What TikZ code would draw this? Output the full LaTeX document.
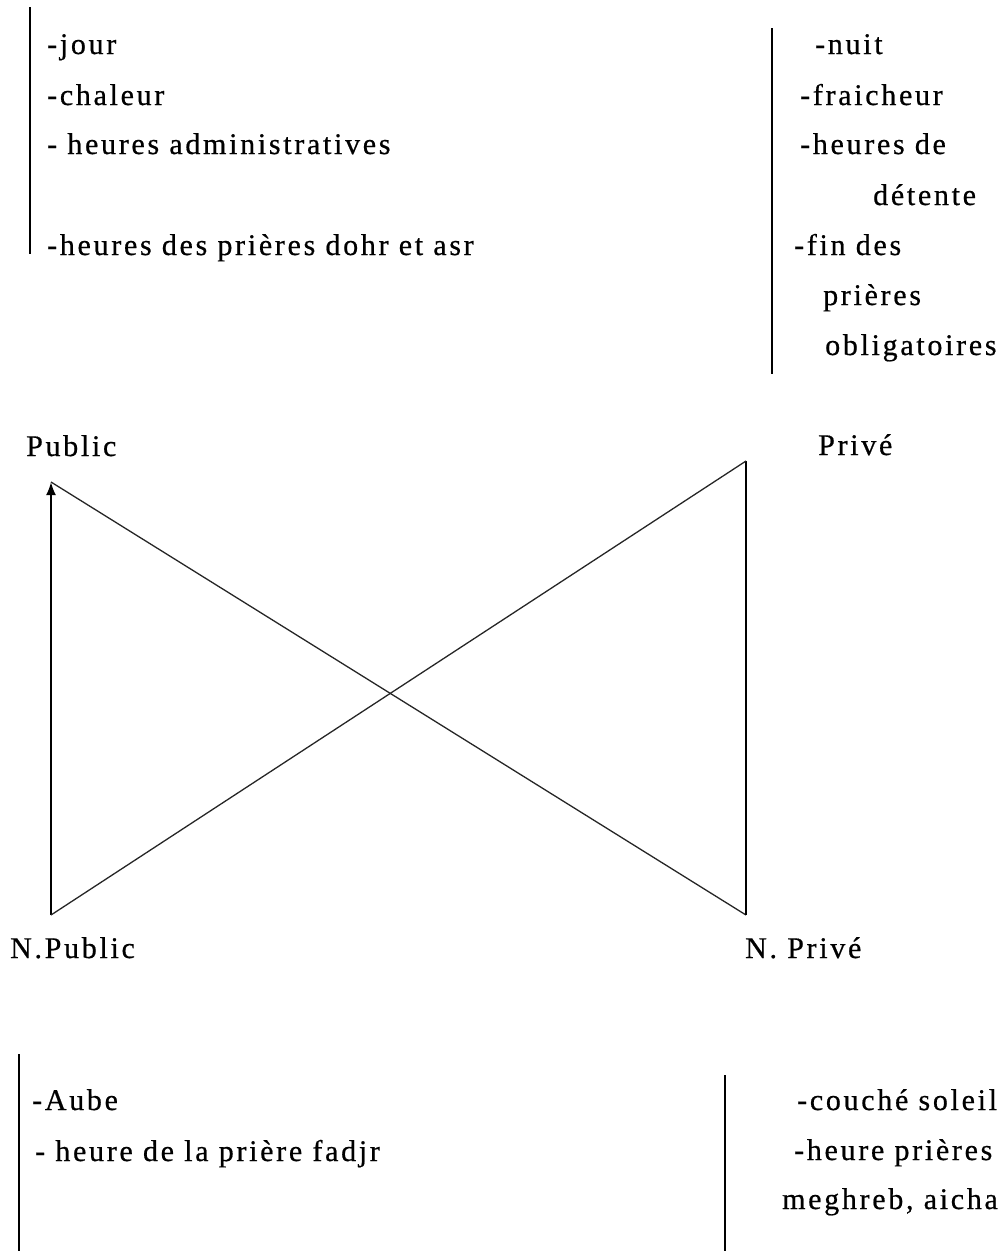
\documentclass[tikz,border=0pt]{standalone}
\usepackage{fontspec}
\setmainfont{Liberation Serif}[LetterSpace=9,FakeBold=0.6]
\usetikzlibrary{arrows.meta}
\begin{document}
\begin{tikzpicture}[x=1pt,y=-1pt,
  txt/.style={anchor=base west, inner sep=0pt, font=\fontsize{30}{36}\selectfont},
  bar/.style={line width=2pt, black},
  diag/.style={line width=1.3pt, black!85}]
\useasboundingbox (0,0) rectangle (1001,1251);
% side bars
\draw[bar] (30,7) -- (30,254);
\draw[bar] (772,28) -- (772,374);
\draw[bar] (19,1054) -- (19,1251);
\draw[bar] (725,1075) -- (725,1251);
% top-left list
\node[txt] (t1) at (47,54) {-jour};
\node[txt] (t2) at (47,105) {-chaleur};
\node[txt] (t3) at (47,154) {- heures administratives};
\node[txt] (t4) at (47,255) {-heures des prières dohr et asr};
% top-right list
\node[txt] (r1) at (815,54) {-nuit};
\node[txt] (r2) at (800,105) {-fraicheur};
\node[txt] (r3) at (800,154) {-heures de};
\node[txt] (r4) at (873,205) {détente};
\node[txt] (r5) at (794,255) {-fin des};
\node[txt] (r6) at (823,305) {prières};
\node[txt] (r7) at (825,355) {obligatoires};
% diagram labels
\node[txt] (lpub) at (26,456) {Public};
\node[txt] (lpriv) at (818,455) {Privé};
\node[txt] (lnpub) at (10,958) {N.Public};
\node[txt] (lnpriv) at (745,958) {N. Privé};
% diagram vertices
\coordinate (npub) at (51,915);
\coordinate (pub) at (51,482);
\coordinate (priv) at (746,461);
\coordinate (npriv) at (746,915);
\draw[bar, -{Latex[length=13pt,width=10pt]}] (npub) -- (pub);
\draw[diag] (pub) -- (npriv);
\draw[bar] (npriv) -- (priv);
\draw[diag] (priv) -- (npub);
% bottom-left list
\node[txt] (b1) at (32,1110) {-Aube};
\node[txt] (b2) at (35,1161) {- heure de la prière fadjr};
% bottom-right list
\node[txt] (c1) at (797,1110) {-couché soleil};
\node[txt] (c2) at (794,1160) {-heure prières};
\node[txt] (c3) at (782,1209) {meghreb, aicha};
\end{tikzpicture}
\end{document}
